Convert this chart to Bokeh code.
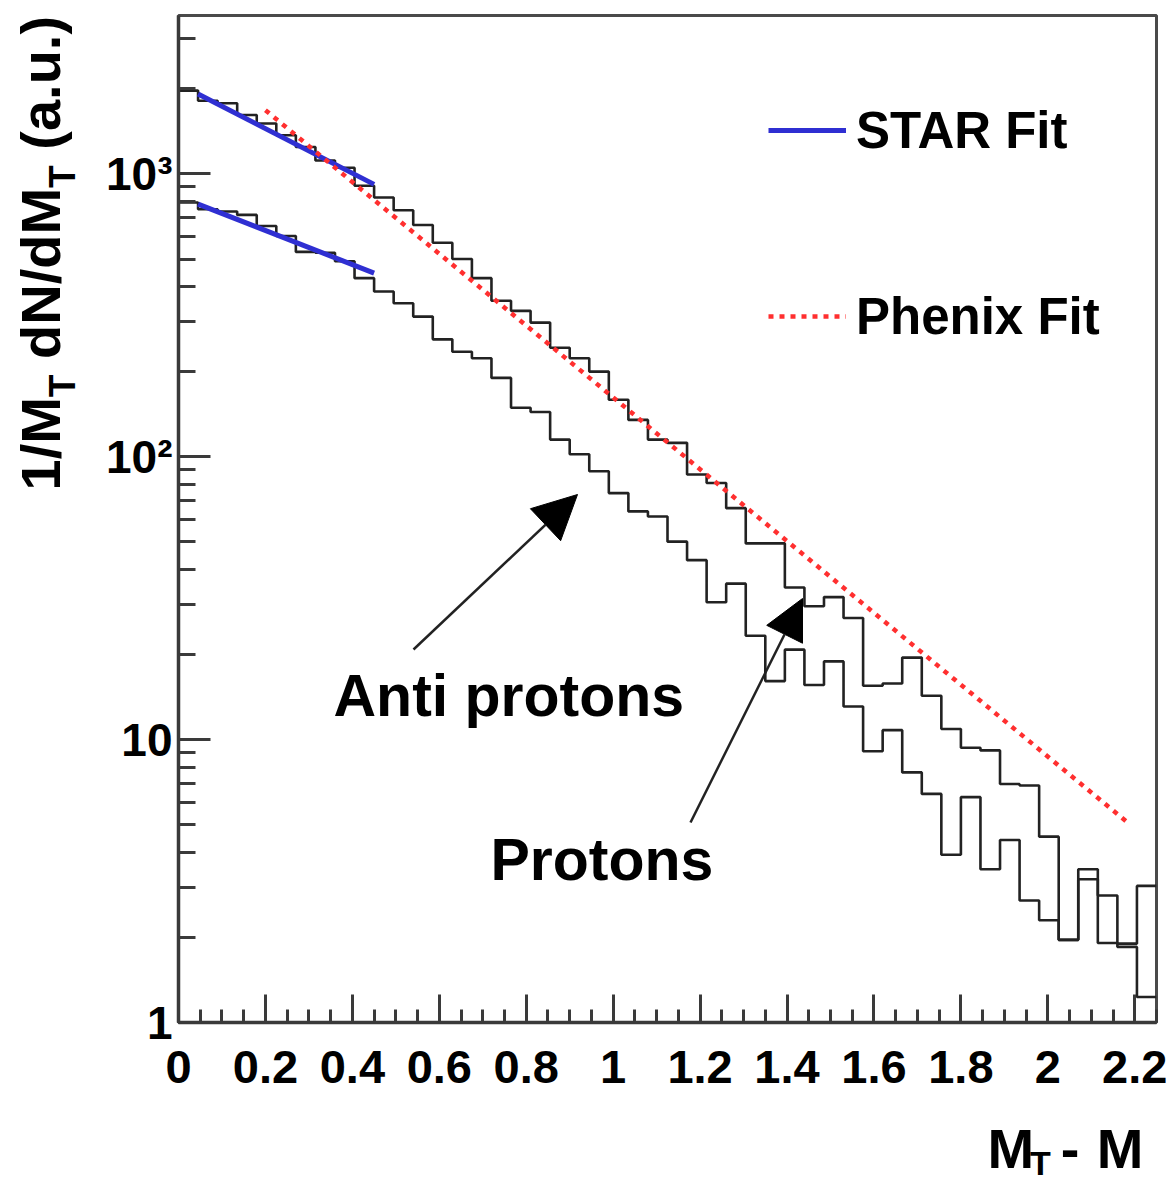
import math

from bokeh.plotting import figure
from bokeh.layouts import row, column
from bokeh.models import (Range1d, FixedTicker, Label, Arrow, NormalHead,
                          Legend, LegendItem)
from bokeh.core.properties import value
from bokeh.embed import file_html
from bokeh.resources import INLINE

# ---------------------------------------------------------------------------
# Data: transverse-mass spectra, 50 bins of 0.045 GeV over [0, 2.25]
# ---------------------------------------------------------------------------
N_BINS = 50
X_MIN, X_MAX = 0.0, 2.25
Y_MIN, Y_MAX = 1.0, 3630.0

protons = [1970, 1814, 1776, 1614, 1507, 1369, 1244, 1115, 1051, 908,
           825, 744, 660, 571, 500, 428, 356, 328, 298, 243,
           223, 200, 159, 135, 115, 112, 86.5, 80.8, 65.8, 49.4,
           49.4, 34.5, 29.6, 31.9, 26.9, 15.5, 15.8, 19.5, 14.3, 10.9,
           9.36, 9.16, 6.97, 6.88, 4.54, 1.96, 3.48, 2.81, 1.90, 3.04]

antiprotons = [792, 750, 736, 716, 654, 603, 530, 526, 491, 428,
               384, 349, 313, 260, 235, 223, 190, 149, 144, 115,
               102, 88.9, 74.4, 64.1, 61.5, 50.1, 43.1, 30.6, 35.6, 23.3,
               16.1, 20.8, 15.6, 18.9, 13.1, 9.1, 10.8, 7.66, 6.43, 3.92,
               6.26, 3.48, 4.42, 2.70, 2.30, 1.96, 3.21, 1.91, 1.85, 1.23]

# exponential fits (straight on the log axis): end points
star_fit_x = [0.045, 0.45]
star_fit_protons = [1916, 918]
star_fit_antiprotons = [782, 446]
phenix_fit_x = [0.2, 2.19]
phenix_fit_protons = [1680, 5.0]

x_ticks = [0.0, 0.2, 0.4, 0.6, 0.8, 1.0, 1.2, 1.4, 1.6, 1.8, 2.0, 2.2]
x_tick_labels = ["0", "0.2", "0.4", "0.6", "0.8", "1", "1.2", "1.4",
                 "1.6", "1.8", "2", "2.2"]
x_minor_ticks = [round(0.05 * i, 2) for i in range(46)]
y_ticks = [1, 10, 100, 1000]
y_tick_labels = ["1", "10", "10\u00b2", "10\u00b3"]
y_minor_ticks = [m * d for d in (1, 10, 100, 1000) for m in range(2, 10)
                 if m * d < Y_MAX]

# ---------------------------------------------------------------------------
# Page geometry (canvas pixels, origin top-left)
# ---------------------------------------------------------------------------
W, H = 1170, 1182
LEFT_STRIP_W = 88           # strip holding the rotated y title
BOTTOM_STRIP_H = 72         # strip holding the x title
MAIN_W, MAIN_H = W - LEFT_STRIP_W, H - BOTTOM_STRIP_H
FRAME_L, FRAME_R, FRAME_T, FRAME_B = 178, 1156, 15, 1022
FONT = "Liberation Sans"
BLUE = "#2f2fd2"
RED = "#ff2f2f"
INK = "#222222"
MID = 0.35                  # baseline -> text-box centre, in font sizes


def px_x(px):
    """Canvas pixel column -> data x."""
    return X_MIN + (px - FRAME_L) / (FRAME_R - FRAME_L) * (X_MAX - X_MIN)


def px_y(py):
    """Canvas pixel row -> data y on the log axis."""
    lo, hi = math.log10(Y_MIN), math.log10(Y_MAX)
    return 10 ** (lo + (FRAME_B - py) / (FRAME_B - FRAME_T) * (hi - lo))


p = figure(width=MAIN_W, height=MAIN_H,
           x_range=Range1d(X_MIN, X_MAX), y_range=Range1d(Y_MIN, Y_MAX),
           y_axis_type="log", output_backend="svg", toolbar_location=None,
           min_border_left=FRAME_L - LEFT_STRIP_W,
           min_border_right=W - FRAME_R,
           min_border_top=FRAME_T, min_border_bottom=MAIN_H - FRAME_B)
p.background_fill_color = "white"
p.border_fill_color = "white"
p.xgrid.visible = False
p.ygrid.visible = False
p.outline_line_color = "#4a4a4a"
p.outline_line_width = 3

# axes
p.xaxis.ticker = FixedTicker(ticks=x_ticks, minor_ticks=x_minor_ticks)
p.xaxis.major_label_overrides = dict(zip(x_ticks, x_tick_labels))
p.yaxis.ticker = FixedTicker(ticks=y_ticks, minor_ticks=y_minor_ticks)
p.yaxis.major_label_overrides = dict(zip(y_ticks, y_tick_labels))

for ax in (p.xaxis[0], p.yaxis[0]):
    ax.axis_line_color = "#3a3a3a"
    ax.axis_line_width = 3.5
    ax.major_tick_line_color = "#3a3a3a"
    ax.minor_tick_line_color = "#3a3a3a"
    ax.major_tick_line_width = 3
    ax.minor_tick_line_width = 3
    ax.major_tick_out = 0
    ax.minor_tick_out = 0
    ax.major_label_text_font = FONT
    ax.major_label_text_font_style = "bold"
    ax.major_label_text_color = "black"

p.xaxis.major_tick_in = 28
p.xaxis.minor_tick_in = 13
p.xaxis.major_label_text_font_size = "47px"
p.xaxis.major_label_standoff = 28
p.yaxis.major_tick_in = 32
p.yaxis.minor_tick_in = 17
p.yaxis.major_label_text_font_size = "46px"
p.yaxis.major_label_standoff = 6

# ---------------------------------------------------------------------------
# Histograms (step outlines)
# ---------------------------------------------------------------------------
bin_w = (X_MAX - X_MIN) / N_BINS
edges = [X_MIN + i * bin_w for i in range(N_BINS + 1)]
p.step(edges, protons + [protons[-1]], mode="after",
       line_color=INK, line_width=2.6)
p.step(edges, antiprotons + [antiprotons[-1]], mode="after",
       line_color=INK, line_width=2.6)

# fits
star_p = p.line(star_fit_x, star_fit_protons, line_color=BLUE, line_width=5)
p.line(star_fit_x, star_fit_antiprotons, line_color=BLUE, line_width=5)
phenix = p.line(phenix_fit_x, phenix_fit_protons, line_color=RED,
                line_width=4.5, line_dash="5 6")

# legend: (x, y) is its lower-left corner, measured from the frame's
# lower-left corner
legend = Legend(items=[LegendItem(label="STAR Fit", renderers=[star_p]),
                       LegendItem(label="Phenix Fit", renderers=[phenix])],
                location=(590, FRAME_B - 346), orientation="vertical",
                glyph_width=78, glyph_height=60, label_height=60,
                label_standoff=10, spacing=126, padding=0, margin=0,
                border_line_alpha=0, background_fill_alpha=0,
                label_text_font=FONT, label_text_font_size="51px",
                label_text_font_style="bold", label_text_color="black")
p.add_layout(legend)

# ---------------------------------------------------------------------------
# Arrows and species labels
# ---------------------------------------------------------------------------
p.add_layout(Arrow(end=NormalHead(size=44, fill_color="black",
                                  line_color="black", line_width=1),
                   x_start=px_x(413), y_start=px_y(649),
                   x_end=px_x(577), y_end=px_y(494),
                   line_color=INK, line_width=2.5))
p.add_layout(Arrow(end=NormalHead(size=40, fill_color="black",
                                  line_color="black", line_width=1),
                   x_start=px_x(690), y_start=px_y(822),
                   x_end=px_x(802), y_end=px_y(598),
                   line_color=INK, line_width=2.5))


def species_label(text, px, baseline, size):
    p.add_layout(Label(x=px_x(px), y=px_y(baseline - MID * size), text=text,
                       text_font=FONT, text_font_size=f"{size}px",
                       text_font_style="bold", text_color="black",
                       text_align="left", text_baseline="middle"))


species_label("Anti protons", 333, 716, 59)
species_label("Protons", 490, 880, 59)


# ---------------------------------------------------------------------------
# Axis titles, with subscripts, drawn in two thin strips beside the plot
# ---------------------------------------------------------------------------
def strip(w, h):
    f = figure(width=w, height=h, x_range=Range1d(0, w), y_range=Range1d(0, h),
               output_backend="svg", toolbar_location=None, min_border=0,
               x_axis_location=None, y_axis_location=None)
    f.grid.visible = False
    f.outline_line_color = None
    f.background_fill_color = "white"
    f.border_fill_color = "white"
    return f


def put(f, x, y, text, size, angle=0.0, align="left"):
    f.text(x=[x], y=[y], text=[text], angle=angle,
           text_font=value(FONT), text_font_size=value(f"{size}px"),
           text_font_style=value("bold"), text_color="black",
           text_align=value(align), text_baseline=value("middle"))


# x title "M_T - M": strip spans canvas x >= LEFT_STRIP_W, y >= MAIN_H
bottom = strip(MAIN_W, BOTTOM_STRIP_H)
for txt, px, base, size in [("M", 983, 1168, 56),
                            ("T", 1030, 1174, 34),
                            ("-", 1064, 1168, 56),
                            ("M", 1104, 1168, 56)]:
    put(bottom, px - LEFT_STRIP_W, H - (base - MID * size), txt, size)

# y title "1/M_T dN/dM_T (a.u.)", reading upwards; spaces only advance
left = strip(LEFT_STRIP_W, H)
big, small = 56, 37
adv = {"1": 556, "/": 278, "M": 833, "T": 611, " ": 278, "d": 611, "N": 722,
       "(": 333, "a": 556, ".": 278, "u": 611, ")": 333}
pieces = [("1/M", big, 60), ("T", small, 75), (" ", big, None),
          ("dN/dM", big, 60), ("T", small, 75), (" ", big, None),
          ("(a.u.)", big, 60)]
pos = 490.0
for txt, size, base_x in pieces:
    if base_x is not None:
        put(left, base_x - MID * size, H - pos, txt, size, angle=math.pi / 2)
    pos -= sum(adv[c] for c in txt) * size / 1000.0

page = row(left, column(p, bottom, spacing=0), spacing=0)
open("out.html", "w").write(file_html(page, INLINE))
